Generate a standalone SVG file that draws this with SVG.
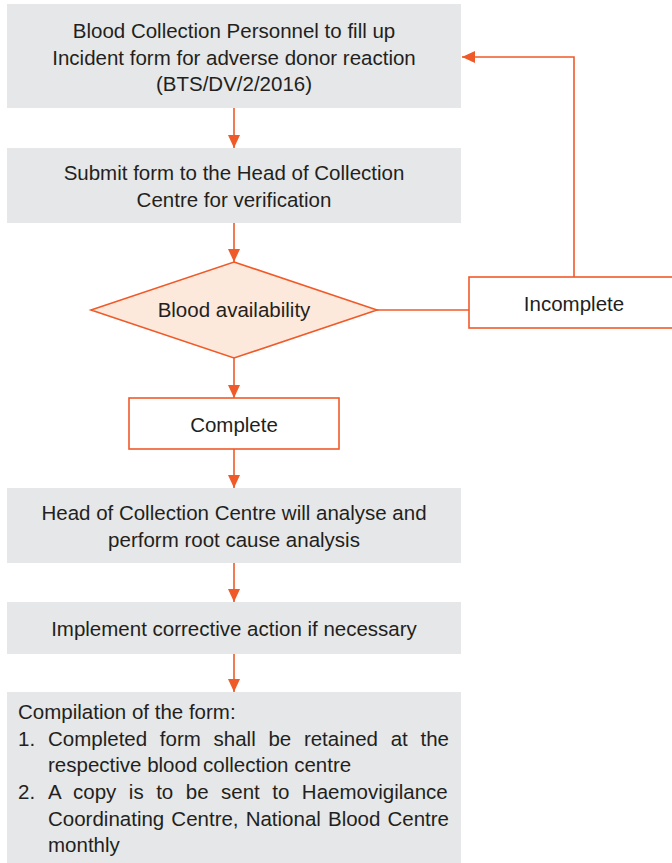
<svg xmlns="http://www.w3.org/2000/svg" width="672" height="863" viewBox="0 0 672 863">
  <style>
    .box { fill: #e6e7e8; }
    .outline { fill: #ffffff; stroke: #f05a28; stroke-width: 1.6; }
    .decision { fill: #fde8dc; stroke: #f05a28; stroke-width: 1.6; }
    .label { font-family: "Liberation Sans", Arial, Helvetica, sans-serif; font-size: 20.5px; fill: #231f20; }
    .c { text-anchor: middle; }
    .link { fill: none; stroke: #f05a28; stroke-width: 1.6; }
  </style>
  <defs>
    <marker id="arrow" markerUnits="userSpaceOnUse" markerWidth="14" markerHeight="14" viewBox="0 0 14 14" refX="13" refY="7" orient="auto">
      <path d="M0,1 L13,7 L0,13 Z" fill="#f05a28"/>
    </marker>
  </defs>

  <g id="fill-form">
    <rect class="box" x="7" y="4" width="454" height="104"/>
    <text class="label c" x="234" y="38">Blood Collection Personnel to fill up</text>
    <text class="label c" x="234" y="65">Incident form for adverse donor reaction</text>
    <text class="label c" x="234" y="91">(BTS/DV/2/2016)</text>
  </g>

  <g id="submit-form">
    <rect class="box" x="7" y="148" width="454" height="75"/>
    <text class="label c" x="234" y="180">Submit form to the Head of Collection</text>
    <text class="label c" x="234" y="207">Centre for verification</text>
  </g>

  <g id="blood-availability">
    <polygon class="decision" points="234,262 377,310 234,358 91,310"/>
    <text class="label c" x="234" y="317">Blood availability</text>
  </g>

  <g id="incomplete">
    <rect class="outline" x="469" y="277" width="210" height="51"/>
    <text class="label c" x="574" y="311">Incomplete</text>
  </g>

  <g id="complete">
    <rect class="outline" x="129" y="398" width="210" height="51"/>
    <text class="label c" x="234" y="432">Complete</text>
  </g>

  <g id="root-cause">
    <rect class="box" x="7" y="488" width="454" height="75"/>
    <text class="label c" x="234" y="520">Head of Collection Centre will analyse and</text>
    <text class="label c" x="234" y="547">perform root cause analysis</text>
  </g>

  <g id="corrective-action">
    <rect class="box" x="7" y="602" width="454" height="52"/>
    <text class="label c" x="234" y="636">Implement corrective action if necessary</text>
  </g>

  <g id="compilation">
    <rect class="box" x="7" y="692" width="454" height="171"/>
    <text class="label" x="18" y="719">Compilation of the form:</text>
    <text class="label" x="18" y="746">1.</text>
    <text class="label" x="48" y="746" word-spacing="7">Completed form shall be retained at the</text>
    <text class="label" x="48" y="772">respective blood collection centre</text>
    <text class="label" x="18" y="799">2.</text>
    <text class="label" x="48" y="799" word-spacing="6.8">A copy is to be sent to Haemovigilance</text>
    <text class="label" x="48" y="826" word-spacing="1.4">Coordinating Centre, National Blood Centre</text>
    <text class="label" x="48" y="852">monthly</text>
  </g>

  <g id="connectors">
    <line class="link" x1="234" y1="108" x2="234" y2="148" marker-end="url(#arrow)"/>
    <line class="link" x1="234" y1="223" x2="234" y2="262" marker-end="url(#arrow)"/>
    <line class="link" x1="377" y1="310" x2="469" y2="310"/>
    <polyline class="link" points="574,277 574,57 462,57" marker-end="url(#arrow)"/>
    <line class="link" x1="234" y1="358" x2="234" y2="398" marker-end="url(#arrow)"/>
    <line class="link" x1="234" y1="449" x2="234" y2="488" marker-end="url(#arrow)"/>
    <line class="link" x1="234" y1="563" x2="234" y2="602" marker-end="url(#arrow)"/>
    <line class="link" x1="234" y1="654" x2="234" y2="692" marker-end="url(#arrow)"/>
  </g>
</svg>
